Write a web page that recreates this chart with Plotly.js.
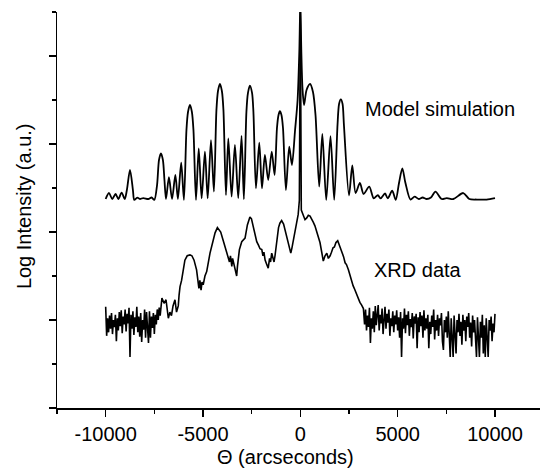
<!DOCTYPE html>
<html>
<head>
<meta charset="utf-8">
<script src="https://cdn.plot.ly/plotly-3.0.1.min.js"></script>
<style>
  html, body { margin: 0; padding: 0; background: #fff; }
  #chart { width: 540px; height: 475px; }
</style>
</head>
<body>
<div id="chart"></div>
<script>
// Rocking-curve comparison: simulated superlattice profile vs measured XRD scan.
// Theta in arcseconds, intensity as log10 (arbitrary units, curves offset).

// Model simulation
const simTheta = [
  -10000, -9830, -9660, -9490, -9350, -9180, -9020, -8910, -8750, -8600,
  -8530, -8380, -8240, -8070, -7810, -7640, -7500, -7360, -7260, -7160,
  -7060, -6980, -6900, -6750, -6590, -6420, -6290, -6120, -5980, -5850,
  -5770, -5670, -5570, -5490, -5360, -5220, -5070, -4900, -4760, -4590,
  -4440, -4310, -4230, -4130, -4030, -3950, -3820, -3700, -3530, -3360,
  -3190, -3020, -2900, -2770, -2690, -2590, -2480, -2410, -2280, -2110,
  -1970, -1820, -1650, -1470, -1320, -1200, -1120, -1050, -970, -890,
  -740, -570, -430, -270, -140, -50, 0, 50, 110, 190,
  320, 500, 650, 780, 970, 1130, 1330, 1550, 1740, 1910,
  1990, 2080, 2170, 2240, 2500, 2670, 2840, 3060, 3250, 3540,
  3770, 3980, 4120, 4350, 4490, 4720, 4900, 5070, 5240, 5400,
  5660, 5870, 6090, 6280, 6490, 6710, 6940, 7260, 7520, 7860,
  8370, 8680, 9060, 9570, 10000
];
const simLog = [
  2.375, 2.443, 2.375, 2.432, 2.375, 2.447, 2.375, 2.477, 2.705, 2.477,
  2.364, 2.390, 2.375, 2.386, 2.375, 2.392, 2.364, 2.534, 2.818, 2.894,
  2.818, 2.591, 2.375, 2.622, 2.375, 2.648, 2.375, 2.788, 2.364, 3.159,
  3.364, 3.443, 3.364, 3.159, 2.364, 2.951, 2.383, 2.913, 2.383, 3.045,
  2.458, 3.386, 3.602, 3.682, 3.602, 3.386, 2.420, 3.065, 2.401, 2.989,
  2.386, 3.091, 2.372, 3.364, 3.580, 3.663, 3.580, 3.364, 2.497, 3.015,
  2.497, 2.875, 2.591, 2.913, 2.648, 3.182, 3.330, 3.372, 3.330, 3.182,
  2.477, 2.969, 2.761, 3.159, 3.500, 4.068, 4.600, 4.068, 3.636, 3.443,
  3.614, 3.682, 3.591, 3.330, 2.515, 3.114, 2.364, 3.088, 2.364, 3.216,
  3.455, 3.508, 3.455, 3.216, 2.415, 2.756, 2.443, 2.557, 2.432, 2.515,
  2.383, 2.420, 2.381, 2.438, 2.381, 2.469, 2.364, 2.557, 2.722, 2.557,
  2.369, 2.401, 2.375, 2.392, 2.375, 2.392, 2.458, 2.375, 2.386, 2.375,
  2.443, 2.375, 2.369, 2.369, 2.386
];

// XRD data, low-angle background
const xrdThetaLow = [
  -10000, -9950, -9900, -9850, -9800, -9750, -9700, -9650, -9600, -9550,
  -9500, -9450, -9400, -9350, -9300, -9250, -9200, -9150, -9100, -9050,
  -9000, -8950, -8900, -8850, -8800, -8750, -8700, -8650, -8600, -8550,
  -8500, -8450, -8400, -8350, -8300, -8250, -8200, -8150, -8100, -8050,
  -8000, -7950, -7900, -7850, -7800, -7750, -7700, -7650, -7600, -7550,
  -7500, -7450, -7400, -7350, -7300, -7250, -7200
];
const xrdLogLow = [
  1.15, 0.82, 1.02, 0.86, 1.05, 0.90, 1.08, 0.84, 1.00, 0.92,
  1.06, 0.76, 1.02, 0.88, 1.09, 0.93, 1.11, 0.85, 1.04, 0.95,
  1.12, 0.87, 1.07, 0.96, 1.14, 0.58, 1.06, 0.90, 1.10, 0.83,
  1.03, 0.92, 1.15, 0.86, 1.04, 0.81, 1.08, 0.75, 1.00, 0.89,
  1.12, 0.80, 1.09, 0.86, 0.74, 1.10, 0.80, 1.04, 0.91, 1.08,
  0.84, 1.06, 0.95, 1.12, 1.00, 1.14, 1.05
];

// XRD data, satellite and substrate region
const xrdThetaMid = [
  -7110, -7000, -6900, -6830, -6780, -6700, -6620, -6540, -6440, -6360,
  -6270, -6230, -6180, -6100, -6030, -5930, -5810, -5670, -5570, -5460,
  -5330, -5260, -5210, -5160, -5100, -5050, -4990, -4900, -4810, -4640,
  -4470, -4380, -4260, -4180, -4090, -3970, -3870, -3770, -3700, -3640,
  -3590, -3520, -3480, -3430, -3360, -3270, -3230, -3130, -3010, -2920,
  -2840, -2720, -2590, -2510, -2410, -2330, -2240, -2150, -2070, -1980,
  -1920, -1870, -1810, -1740, -1650, -1580, -1530, -1470, -1410, -1350,
  -1300, -1200, -1120, -1050, -960, -860, -790, -680, -580, -490,
  -430, -350, -280, -200, -110, -50, 0, 50, 150, 240,
  330, 410, 500, 590, 670, 750, 840, 940, 1010, 1100,
  1180, 1270, 1360, 1440, 1530, 1600, 1680, 1750, 1830, 1920,
  2010, 2130, 2220, 2300, 2370, 2470, 2550, 2640, 2710, 2770,
  2840, 2900, 2980, 3060, 3150, 3240
];
const xrdLogMid = [
  1.25, 1.19, 1.23, 1.11, 1.02, 1.09, 1.05, 1.16, 1.23, 1.09,
  1.16, 1.28, 1.38, 1.45, 1.55, 1.68, 1.73, 1.74, 1.73, 1.68,
  1.57, 1.43, 1.36, 1.45, 1.34, 1.43, 1.40, 1.50, 1.55, 1.76,
  1.91, 1.99, 2.05, 2.03, 2.00, 1.91, 1.83, 1.76, 1.70, 1.66,
  1.73, 1.61, 1.70, 1.66, 1.59, 1.50, 1.61, 1.80, 1.89, 1.91,
  1.93, 2.08, 2.17, 2.15, 2.05, 1.97, 1.89, 1.85, 1.81, 1.80,
  1.73, 1.77, 1.68, 1.64, 1.59, 1.70, 1.66, 1.76, 1.70, 1.66,
  1.73, 1.91, 2.05, 2.10, 2.13, 2.09, 2.03, 1.93, 1.82, 1.76,
  1.82, 1.91, 1.98, 2.07, 2.20, 2.36, 4.60, 2.25, 2.19, 2.14,
  2.16, 2.19, 2.18, 2.15, 2.11, 2.07, 2.00, 1.94, 1.88, 1.77,
  1.67, 1.73, 1.76, 1.70, 1.73, 1.77, 1.82, 1.83, 1.88, 1.90,
  1.85, 1.78, 1.72, 1.65, 1.63, 1.57, 1.50, 1.45, 1.39, 1.36,
  1.32, 1.28, 1.24, 1.20, 1.17, 1.13
];

// XRD data, high-angle background
const xrdThetaHigh = [
  3300, 3350, 3400, 3450, 3500, 3550, 3600, 3650, 3700, 3750,
  3800, 3850, 3900, 3950, 4000, 4050, 4100, 4150, 4200, 4250,
  4300, 4350, 4400, 4450, 4500, 4550, 4600, 4650, 4700, 4750,
  4800, 4850, 4900, 4950, 5000, 5050, 5100, 5150, 5200, 5250,
  5300, 5350, 5400, 5450, 5500, 5550, 5600, 5650, 5700, 5750,
  5800, 5850, 5900, 5950, 6000, 6050, 6100, 6150, 6200, 6250,
  6300, 6350, 6400, 6450, 6500, 6550, 6600, 6650, 6700, 6750,
  6800, 6850, 6900, 6950, 7000, 7050, 7100, 7150, 7200, 7250,
  7300, 7350, 7400, 7450, 7500, 7550, 7600, 7650, 7700, 7750,
  7800, 7850, 7900, 7950, 8000, 8050, 8100, 8150, 8200, 8250,
  8300, 8350, 8400, 8450, 8500, 8550, 8600, 8650, 8700, 8750,
  8800, 8850, 8900, 8950, 9000, 9050, 9100, 9150, 9200, 9250,
  9300, 9350, 9400, 9450, 9500, 9550, 9600, 9650, 9700, 9750,
  9800, 9850, 9900, 9950, 10000
];
const xrdLogHigh = [
  0.95, 1.12, 0.88, 1.05, 0.92, 1.14, 0.74, 1.02, 0.90, 1.10,
  0.86, 1.16, 0.94, 1.08, 1.17, 0.88, 1.06, 0.96, 1.13, 0.84,
  1.04, 1.15, 0.90, 1.07, 0.97, 1.12, 0.82, 1.02, 0.93, 1.10,
  0.86, 1.05, 0.95, 1.11, 0.88, 1.03, 0.80, 1.09, 0.58, 1.02,
  0.90, 1.13, 0.85, 1.06, 0.94, 1.10, 0.82, 1.01, 0.92, 1.08,
  0.79, 1.04, 0.96, 1.07, 0.68, 1.03, 0.86, 1.09, 0.93, 1.05,
  0.80, 1.11, 0.88, 1.02, 0.90, 1.06, 0.68, 0.98, 0.84, 1.05,
  0.92, 1.12, 0.78, 1.00, 0.88, 1.06, 0.82, 1.02, 0.94, 1.08,
  0.76, 0.66, 1.00, 0.86, 1.04, 0.80, 1.10, 0.90, 0.58, 1.02,
  0.84, 0.58, 1.05, 0.88, 0.62, 1.00, 0.86, 1.07, 0.82, 0.98,
  0.72, 1.06, 0.88, 1.00, 0.76, 1.04, 0.92, 1.08, 0.80, 0.97,
  0.70, 1.05, 0.86, 1.00, 0.78, 0.58, 1.03, 0.84, 0.58, 0.98,
  0.80, 1.06, 0.62, 0.94, 0.58, 1.02, 0.82, 0.58, 1.00, 0.88,
  1.04, 0.76, 0.96, 0.86, 1.07
];

// Axis ticks
const xTickVals = [-10000, -5000, 0, 5000, 10000];
const xTickText = ['-10000', '-5000', '0', '5000', '10000'];
const xMinorVals = [-12500, -7500, -2500, 2500, 7500];
const yTickVals = [0, 1, 2, 3, 4];
const yMinorVals = [0.5, 1.5, 2.5, 3.5, 4.5];

// Curve labels
const curveLabels = ['Model simulation', 'XRD data'];
const labelTheta = [3234, 3666];
const labelLog = [3.403, 1.568];

const FONT = 'Liberation Sans, Arial, Helvetica, sans-serif';

const xrdTheta = xrdThetaLow.concat(xrdThetaMid, xrdThetaHigh);
const xrdLog = xrdLogLow.concat(xrdLogMid, xrdLogHigh);

const traces = [
  {
    x: simTheta, y: simLog, type: 'scatter', mode: 'lines',
    line: { color: '#000', width: 1.8, shape: 'spline', smoothing: 0.8 },
    hoverinfo: 'skip'
  },
  {
    x: xrdTheta, y: xrdLog, type: 'scatter', mode: 'lines',
    line: { color: '#000', width: 1.6 },
    hoverinfo: 'skip'
  }
];

const axisCommon = {
  showline: true, linecolor: '#000', linewidth: 1.5,
  showgrid: false, zeroline: false,
  ticks: 'outside', ticklen: 7, tickwidth: 1.5, tickcolor: '#000',
  fixedrange: true
};

const layout = {
  width: 540, height: 475,
  margin: { l: 57, r: 0, t: 12, b: 67, pad: 0 },
  paper_bgcolor: '#fff', plot_bgcolor: '#fff',
  showlegend: false,
  font: { family: FONT, size: 20, color: '#000' },
  xaxis: Object.assign({}, axisCommon, {
    range: [-12500, 12312],
    tickmode: 'array', tickvals: xTickVals, ticktext: xTickText,
    tickfont: { family: FONT, size: 20, color: '#000' },
    minor: { tickmode: 'array', tickvals: xMinorVals, ticks: 'outside',
             ticklen: 4, tickwidth: 1.5, tickcolor: '#000', showgrid: false }
  }),
  yaxis: Object.assign({}, axisCommon, {
    range: [0, 4.5],
    tickmode: 'array', tickvals: yTickVals, showticklabels: false,
    minor: { tickmode: 'array', tickvals: yMinorVals, ticks: 'outside',
             ticklen: 4, tickwidth: 1.5, tickcolor: '#000', showgrid: false }
  }),
  annotations: [
    {
      text: curveLabels[0], x: labelTheta[0], y: labelLog[0],
      xref: 'x', yref: 'y', xanchor: 'left', yanchor: 'middle',
      showarrow: false, font: { family: FONT, size: 20, color: '#000' }
    },
    {
      text: curveLabels[1], x: labelTheta[1], y: labelLog[1],
      xref: 'x', yref: 'y', xanchor: 'left', yanchor: 'middle',
      showarrow: false, font: { family: FONT, size: 20, color: '#000' }
    },
    {
      text: '\u0398 (arcseconds)', x: 0.4731, y: -0.123,
      xref: 'paper', yref: 'paper', xanchor: 'center', yanchor: 'middle',
      showarrow: false, font: { family: FONT, size: 20, color: '#000' }
    },
    {
      text: 'Log Intensity (a.u.)', x: -0.0694, y: 0.511, textangle: -90,
      xref: 'paper', yref: 'paper', xanchor: 'center', yanchor: 'middle',
      showarrow: false, font: { family: FONT, size: 20, color: '#000' }
    }
  ]
};

Plotly.newPlot('chart', traces, layout, { displayModeBar: false, staticPlot: true });
</script>
</body>
</html>
